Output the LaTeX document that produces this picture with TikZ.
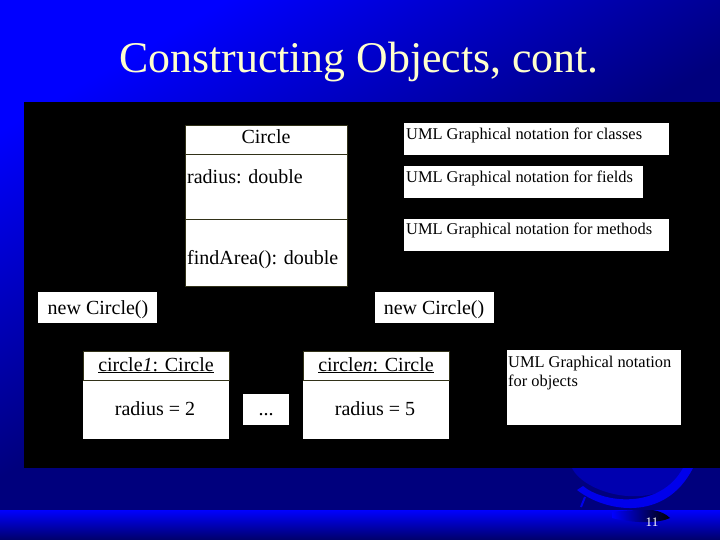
\documentclass[tikz,border=0pt]{standalone}
\usepackage{fontspec}
\setmainfont{Liberation Serif}
\usetikzlibrary{positioning}
\definecolor{slideblue}{RGB}{0,0,255}
\definecolor{slidenavy}{RGB}{0,0,125}
\definecolor{slidedeep}{RGB}{0,0,105}
\definecolor{discblue}{RGB}{0,0,175}
\definecolor{bandblue}{RGB}{0,0,235}
\definecolor{titlecream}{RGB}{255,255,205}
\definecolor{boxedge}{RGB}{50,50,25}
\tikzset{
  whitebox/.style={fill=white, inner sep=0pt, anchor=north west},
  umlbox/.style={whitebox, draw=boxedge, line width=0.8pt},
  boxtext/.style={anchor=base, font=\fontsize{20}{24}\selectfont, text=black, inner sep=0pt},
  notetext/.style={anchor=base west, font=\fontsize{16.4}{19}\selectfont, text=black, inner sep=0pt}
}
\begin{document}
\begin{tikzpicture}[x=1pt, y=-1pt]
  \useasboundingbox (0,0) rectangle (720,540);
  % slide background
  \shade[top color=slideblue, bottom color=slidenavy, middle color=slidenavy, shading angle=30] (0,0) rectangle (720,540);
  \fill[discblue] (572,468) .. controls (585,495) and (660,515) .. (690,468) -- cycle;
  \fill[bandblue] (577,490) -- (583,486) .. controls (603,503) and (660,510) .. (683,468) -- (693,468) .. controls (665,523) and (605,512) .. (577,490) -- cycle;
  \draw[bandblue, line width=2pt] (581,507) -- (585,497);
  \shade[top color=slideblue, bottom color=slidedeep] (0,510) rectangle (720,540);
  \shade[left color=slideblue, right color=black] (612,512) .. controls (625,510) and (640,510) .. (652,510) .. controls (660,511) and (666,514) .. (670,518) .. controls (660,523) and (635,524) .. (612,518) -- cycle;
  \fill[black] (24,102) rectangle (720,468);
  \node[anchor=base, text=titlecream, inner sep=0pt, font=\fontsize{43.8}{52}\selectfont] (title) at (359,73) {Constructing Objects, cont.};
  % class box
  \node[umlbox, minimum width=162pt, minimum height=29pt] (classname) at (185,125) {};
  \node[umlbox, minimum width=162pt, minimum height=65pt] (classfields) at (185,154) {};
  \node[umlbox, minimum width=162pt, minimum height=67pt] (classmethods) at (185,219) {};
  \node[boxtext] (classnametxt) at (266,144) {Circle};
  \node[boxtext, anchor=base west] (classfieldstxt) at (187,184) {radius: double};
  \node[boxtext, anchor=base west] (classmethodstxt) at (187,264) {findArea(): double};
  % notes
  \node[whitebox, minimum width=265pt, minimum height=32pt] (noteclass) at (404,123) {};
  \node[whitebox, minimum width=239pt, minimum height=32pt] (notefield) at (404,166) {};
  \node[whitebox, minimum width=265pt, minimum height=32pt] (notemethod) at (404,219) {};
  \node[notetext] (noteclasstxt) at (406,140) {UML Graphical notation for classes};
  \node[notetext] (notefieldtxt) at (406,183) {UML Graphical notation for fields};
  \node[notetext] (notemethodtxt) at (406,235) {UML Graphical notation for methods};
  % new
  \node[whitebox, minimum width=119pt, minimum height=31pt] (newleft) at (38,292) {};
  \node[whitebox, minimum width=119pt, minimum height=31pt] (newright) at (375,292) {};
  \node[boxtext] (newlefttxt) at (98,314) {new Circle()};
  \node[boxtext] (newrighttxt) at (434,314) {new Circle()};
  % objects
  \node[umlbox, minimum width=146pt, minimum height=29pt] (firstname) at (83,351) {};
  \node[umlbox, draw=none, minimum width=146pt, minimum height=58pt] (firstvalue) at (83,381) {};
  \node[boxtext] (firstnametxt) at (156,371) {\underline{circle\textit{1}: Circle}};
  \node[boxtext] (firstvaluetxt) at (155,415) {radius = 2};
  \node[whitebox, minimum width=46pt, minimum height=31pt] (dots) at (243,394) {};
  \node[boxtext] (dotstxt) at (266,415) {...};
  \node[umlbox, minimum width=146pt, minimum height=29pt] (lastname) at (303,351) {};
  \node[umlbox, draw=none, minimum width=146pt, minimum height=58pt] (lastvalue) at (303,381) {};
  \node[boxtext] (lastnametxt) at (376,371) {\underline{circle\textit{n}: Circle}};
  \node[boxtext] (lastvaluetxt) at (375,415) {radius = 5};
  \node[whitebox, minimum width=174pt, minimum height=75pt] (noteobject) at (507,350) {};
  \node[notetext] (noteobjecttxt) at (508,367) {UML Graphical notation};
  \node[notetext] (noteobjecttwo) at (508,386) {for objects};
  % page number
  \node[anchor=base, text=white, inner sep=0pt, font=\fontsize{13}{15}\selectfont] (pagenum) at (652,526) {11};
\end{tikzpicture}
\end{document}
